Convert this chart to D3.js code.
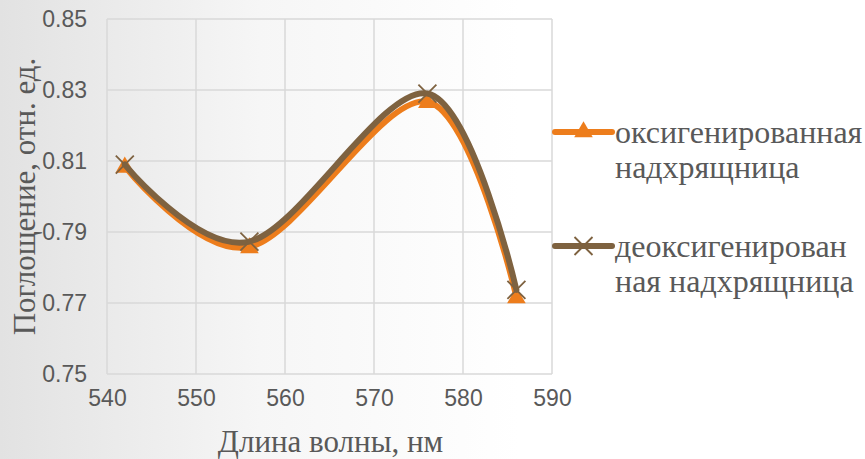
<!DOCTYPE html>
<html>
<head>
<meta charset="utf-8">
<script src="https://d3js.org/d3.v7.min.js"></script>
<style>
  body { margin: 0; }
  svg { display: block; }
</style>
</head>
<body>
<div id="chart"></div>
<script>
// data
const wavelengths = [542, 556, 576, 586];
const oxyValues = [0.8085, 0.7858, 0.8267, 0.7717];
const deoxyValues = [0.8090, 0.7873, 0.8290, 0.7737];
const seriesNames = ['оксигенированная надхрящница', 'деоксигенированная надхрящница'];
const legendLines = [['оксигенированная', 'надхрящница'], ['деоксигенирован', 'ная надхрящница']];
const xTicks = [540, 550, 560, 570, 580, 590];
const yTicks = [0.75, 0.77, 0.79, 0.81, 0.83, 0.85];

const svgWidth = 865;
const svgHeight = 459;
const margin = { top: 19, left: 107, right: 313, bottom: 85 };
const chartWidth = svgWidth - margin.left - margin.right;
const chartHeight = svgHeight - margin.top - margin.bottom;

const serif = "'Liberation Serif', 'DejaVu Serif', serif";
const sans = "'Liberation Sans', Arial, sans-serif";

const svg = d3.select('#chart')
              .append('svg')
              .attr('width', svgWidth)
              .attr('height', svgHeight);

// slide-like background, gray on the left fading to white
const grad = svg.append('defs').append('linearGradient')
                .attr('id', 'bg')
                .attr('x1', 0).attr('x2', 1).attr('y1', 0).attr('y2', 0);
grad.append('stop').attr('offset', '0%').attr('stop-color', '#e2e2e2');
grad.append('stop').attr('offset', '30%').attr('stop-color', '#f6f6f6');
grad.append('stop').attr('offset', '60%').attr('stop-color', '#ffffff');

svg.append('rect')
   .attr('width', svgWidth)
   .attr('height', svgHeight)
   .attr('fill', 'url(#bg)');

const chartGroup = svg.append('g')
                      .attr('transform', `translate(${margin.left}, ${margin.top})`);

const xScale = d3.scaleLinear().domain([540, 590]).range([0, chartWidth]);
const yScale = d3.scaleLinear().domain([0.75, 0.85]).range([chartHeight, 0]);

// gridlines
chartGroup.append('g')
          .selectAll('line')
          .data(xTicks)
          .enter()
          .append('line')
          .attr('x1', d => xScale(d)).attr('x2', d => xScale(d))
          .attr('y1', 0).attr('y2', chartHeight)
          .attr('stroke', '#d9d9d9')
          .attr('stroke-width', 1.5);

chartGroup.append('g')
          .selectAll('line')
          .data(yTicks)
          .enter()
          .append('line')
          .attr('x1', 0).attr('x2', chartWidth)
          .attr('y1', d => yScale(d)).attr('y2', d => yScale(d))
          .attr('stroke', '#d9d9d9')
          .attr('stroke-width', 1.5);

// axes (labels only, lines hidden)
const bottomAxis = d3.axisBottom(xScale).tickValues(xTicks).tickSize(0).tickPadding(16);
const leftAxis = d3.axisLeft(yScale).tickValues(yTicks).tickSize(0).tickPadding(20)
                   .tickFormat(d3.format('.2f'));

const xAxisG = chartGroup.append('g')
                         .attr('transform', `translate(0, ${chartHeight})`)
                         .call(bottomAxis);
const yAxisG = chartGroup.append('g').call(leftAxis);

[xAxisG, yAxisG].forEach(g => {
  g.select('.domain').remove();
  g.selectAll('text')
   .attr('font-family', sans)
   .attr('font-size', 23)
   .attr('fill', '#595959');
});

// series
const line = d3.line()
               .x(d => xScale(d[0]))
               .y(d => yScale(d[1]))
               .curve(d3.curveCardinal.tension(0));

const oxyData = wavelengths.map((w, i) => [w, oxyValues[i]]);
const deoxyData = wavelengths.map((w, i) => [w, deoxyValues[i]]);

const orange = '#ed7d1c';
const brown = '#7e6240';

const triangle = d3.symbol().type(d3.symbolTriangle).size(150);

chartGroup.append('path')
          .datum(oxyData)
          .attr('d', line)
          .attr('fill', 'none')
          .attr('stroke', orange)
          .attr('stroke-width', 6)
          .attr('stroke-linecap', 'round');

chartGroup.selectAll('.oxyMark')
          .data(oxyData)
          .enter()
          .append('path')
          .attr('transform', d => `translate(${xScale(d[0])}, ${yScale(d[1]) + 1})`)
          .attr('d', triangle)
          .attr('fill', orange);

chartGroup.append('path')
          .datum(deoxyData)
          .attr('d', line)
          .attr('fill', 'none')
          .attr('stroke', brown)
          .attr('stroke-width', 6)
          .attr('stroke-linecap', 'round');

chartGroup.selectAll('.deoxyMark')
          .data(deoxyData)
          .enter()
          .append('path')
          .attr('transform', d => `translate(${xScale(d[0])}, ${yScale(d[1])})`)
          .attr('d', 'M-9,-9L9,9M-9,9L9,-9')
          .attr('stroke', brown)
          .attr('stroke-width', 1.8);

// axis titles
svg.append('text')
   .attr('transform', `translate(${margin.left + chartWidth / 2 + 1}, 452)`)
   .attr('text-anchor', 'middle')
   .attr('font-family', serif)
   .attr('font-size', 31)
   .attr('fill', '#595959')
   .text('Длина волны, нм');

svg.append('text')
   .attr('transform', `translate(35, ${margin.top + chartHeight / 2}) rotate(-90)`)
   .attr('text-anchor', 'middle')
   .attr('font-family', serif)
   .attr('font-size', 31)
   .attr('fill', '#595959')
   .text('Поглощение, отн. ед.');

// legend
const legend = svg.append('g');
const legendY = [132, 246];
const legendColors = [orange, brown];

legendLines.forEach((lines, i) => {
  const g = legend.append('g').attr('transform', `translate(555, ${legendY[i]})`);
  g.append('line')
   .attr('x1', 0).attr('x2', 57)
   .attr('stroke', legendColors[i])
   .attr('stroke-width', 6)
   .attr('stroke-linecap', 'round');
  if (i === 0) {
    g.append('path')
     .attr('transform', 'translate(28.5, 0)')
     .attr('d', triangle)
     .attr('fill', orange);
  } else {
    g.append('path')
     .attr('transform', 'translate(28.5, 0)')
     .attr('d', 'M-9,-9L9,9M-9,9L9,-9')
     .attr('stroke', brown)
     .attr('stroke-width', 1.8);
  }
  g.append('text')
   .attr('x', 60)
   .attr('y', 11)
   .attr('font-family', serif)
   .attr('font-size', 32)
   .attr('fill', '#595959')
   .attr('aria-label', seriesNames[i])
   .selectAll('tspan')
   .data(lines)
   .enter()
   .append('tspan')
   .attr('x', 60)
   .attr('dy', (d, j) => j === 0 ? 0 : 35)
   .text(d => d);
});
</script>
</body>
</html>
